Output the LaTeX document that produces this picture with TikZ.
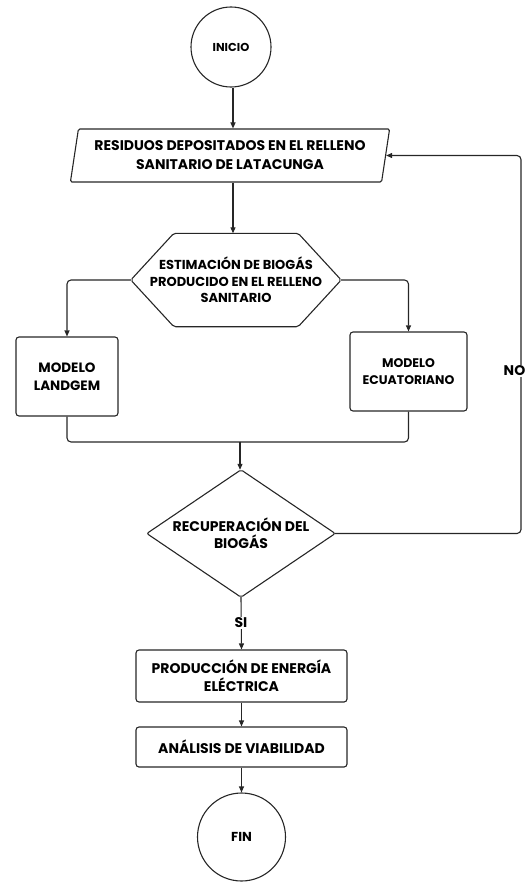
\documentclass[tikz,border=0pt]{standalone}
\usepackage{fontspec}
\setmainfont{Poppins}[BoldFont={* Bold}]
\usetikzlibrary{arrows.meta,shapes.geometric}
\newcommand{\fs}[2]{\bfseries\fontsize{#1}{#2}\selectfont}
\begin{document}
\begin{tikzpicture}[x=1pt,y=-1pt,
  base/.style={draw=black!85,line width=1.1pt,align=center,inner sep=1pt},
  term/.style={base,circle,minimum size=#1},
  io/.style={base,trapezium,trapezium stretches=true,trapezium left angle=77,trapezium right angle=103,minimum width=320pt,minimum height=53pt,inner xsep=0pt,rounded corners=1.5pt},
  textbox/.style={align=center,inner sep=0pt},
  shapeline/.style={draw=black!85,line width=1.1pt,rounded corners=2pt},
  proc/.style={base,rectangle,rounded corners=3pt},
  conn/.style={draw=black!85,line width=1.1pt,rounded corners=4pt,-{Triangle[length=6pt,width=5pt]}},
  line/.style={draw=black!85,line width=1.1pt,rounded corners=4pt},
  lbl/.style={fill=white,font=\fs{14}{16},inner sep=1pt}
]
\useasboundingbox (0,0) rectangle (528,883);
\node[term=80pt,font=\fs{11.5}{14}] (ini) at (231,47) {INICIO};
\node[io,font=\fs{14}{19}] (res) at (230,155.5) {RESIDUOS DEPOSITADOS EN EL RELLENO\\SANITARIO DE LATACUNGA};
\node[textbox,minimum width=210pt,minimum height=93pt,font=\fs{13}{16.5}] (est) at (236,280) {ESTIMACIÓN DE BIOGÁS\\PRODUCIDO EN EL RELLENO\\SANITARIO};
\draw[shapeline] ([xshift=43pt]est.north west) -- ([xshift=-43pt]est.north east) -- (est.east) -- ([xshift=-43pt]est.south east) -- ([xshift=43pt]est.south west) -- (est.west) -- cycle;
\node[proc,minimum width=102pt,minimum height=79pt,font=\fs{13.5}{17.5}] (lan) at (67,376.5) {MODELO\\LANDGEM};
\node[proc,minimum width=117pt,minimum height=79pt,font=\fs{12.5}{17.5}] (ecu) at (408.5,371.5) {MODELO\\ECUATORIANO};
\node[textbox,minimum width=188pt,minimum height=127pt,font=\fs{14}{17}] (rec) at (241,533.5) {RECUPERACIÓN DEL\\BIOGÁS};
\draw[shapeline] (rec.north) -- (rec.east) -- (rec.south) -- (rec.west) -- cycle;
\node[proc,minimum width=211pt,minimum height=52pt,font=\fs{14}{18}] (pro) at (241.5,676) {PRODUCCIÓN DE ENERGÍA\\ELÉCTRICA};
\node[proc,minimum width=211pt,minimum height=40pt,font=\fs{14}{18}] (ana) at (241.5,747) {ANÁLISIS DE VIABILIDAD};
\node[term=88pt,font=\fs{13}{15}] (fin) at (241.5,837) {FIN};
\coordinate (m) at (240,442);
\coordinate (nox) at (521,155.5);
\path[conn] (ini.south -| 233,0) -- (233,0 |- res.north);
\path[conn] (res.south -| 233,0) -- (233,0 |- est.north);
\path[conn] (est.west) -| (lan.north);
\path[conn] (est.east) -| (ecu.north);
\path[line] (lan.south) |- (m);
\path[line] (ecu.south) |- (m);
\path[conn] (m) -- (m |- rec.north);
\path[conn] (rec.east) -| (nox) -- (res.east);
\node[lbl] (no) at (514.5,371) {NO};
\path[conn] (rec.south) -- (pro.north);
\node[lbl] (si) at (241,623) {SI};
\path[conn] (pro.south) -- (ana.north);
\path[conn] (ana.south) -- (fin.north);
\end{tikzpicture}
\end{document}
